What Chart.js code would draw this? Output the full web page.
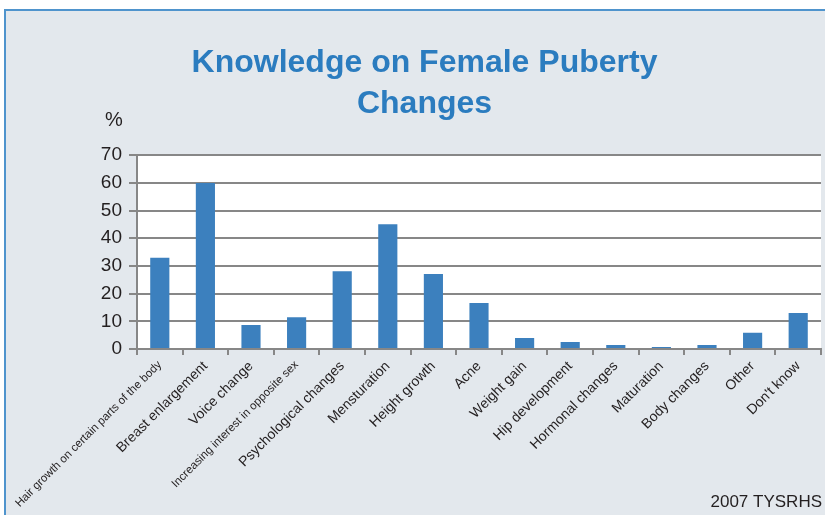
<!DOCTYPE html>
<html>
<head>
<meta charset="utf-8">
<script src="https://cdn.jsdelivr.net/npm/chart.js@4"></script>
<style>
  body { margin: 0; background: #fff; }
  #wrap { width: 825px; height: 515px; }
</style>
</head>
<body>
<div id="wrap"><canvas id="pubertyChart" width="825" height="515"></canvas></div>
<script>
const categories = [
    "Hair growth on certain parts of the body",
    "Breast enlargement",
    "Voice change",
    "Increasing interest in opposite sex",
    "Psychological changes",
    "Mensturation",
    "Height growth",
    "Acne",
    "Weight gain",
    "Hip development",
    "Hormonal changes",
    "Maturation",
    "Body changes",
    "Other",
    "Don't know"
];
const percents = [33, 60, 8.7, 11.5, 28.1, 45.1, 27.1, 16.6, 4, 2.5, 1.4, 0.7, 1.4, 5.9, 13];
const yTicks = [0, 10, 20, 30, 40, 50, 60, 70];

const smallLabels = [0, 3];
const gridGray = "#878787";
const textDark = "#231f20";

// frame, white plot area, "%" and the source note
const decorations = {
    id: "decorations",
    beforeDraw(chart) {
        const c = chart.ctx;
        const a = chart.chartArea;
        c.save();
        c.fillStyle = "#ffffff";
        c.fillRect(0, 0, chart.width, chart.height);
        c.fillStyle = "#e3e8ed";
        c.fillRect(5, 10, chart.width, chart.height);
        c.strokeStyle = "#4f94cd";
        c.lineWidth = 2;
        c.strokeRect(5, 10, chart.width + 10, chart.height + 10);
        c.fillStyle = "#ffffff";
        c.fillRect(a.left, a.top, a.right - a.left, a.bottom - a.top);
        c.restore();
    },
    afterDraw(chart) {
        const c = chart.ctx;
        c.save();
        c.fillStyle = textDark;
        c.font = "20px 'Liberation Sans', Arial, sans-serif";
        c.textAlign = "center";
        c.textBaseline = "middle";
        c.fillText("%", 114, 120);
        c.font = "17px 'Liberation Sans', Arial, sans-serif";
        c.textAlign = "right";
        c.textBaseline = "alphabetic";
        c.fillText("2007 TYSRHS", 822, 507);
        c.restore();
    }
};

new Chart(document.getElementById("pubertyChart"), {
    type: "bar",
    data: {
        labels: categories,
        datasets: [{
            data: percents,
            backgroundColor: "#3c80be",
            barPercentage: 0.42,
            categoryPercentage: 1
        }]
    },
    options: {
        responsive: false,
        animation: false,
        layout: { padding: { left: 28, right: 4, top: 0, bottom: 0 } },
        plugins: {
            legend: { display: false },
            tooltip: { enabled: false },
            title: {
                display: true,
                text: ["Knowledge on Female Puberty", "Changes"],
                color: "#2b7cbf",
                font: { family: "'Liberation Sans', Arial, sans-serif", size: 32, weight: "bold", lineHeight: 1.3 },
                padding: { top: 42, bottom: 30 }
            }
        },
        scales: {
            x: {
                grid: { drawOnChartArea: false, color: gridGray, lineWidth: 2, tickLength: 6, offset: true },
                border: { color: gridGray, width: 2 },
                ticks: {
                    minRotation: 45,
                    maxRotation: 45,
                    autoSkip: false,
                    padding: 3,
                    color: textDark,
                    font: (ctx) => ({
                        family: "'Liberation Sans', Arial, sans-serif",
                        size: smallLabels.includes(ctx.index) ? 11.5 : 14
                    })
                },
                afterFit(scale) { scale.height = 166; }
            },
            y: {
                min: 0,
                max: 70,
                afterBuildTicks(scale) { scale.ticks = yTicks.map(v => ({ value: v })); },
                grid: { color: gridGray, lineWidth: 2, tickLength: 8 },
                border: { color: gridGray, width: 2 },
                ticks: {
                    padding: 7,
                    color: textDark,
                    font: { family: "'Liberation Sans', Arial, sans-serif", size: 19 }
                },
                afterFit(scale) { scale.width = 109; }
            }
        }
    },
    plugins: [decorations]
});
</script>
</body>
</html>
